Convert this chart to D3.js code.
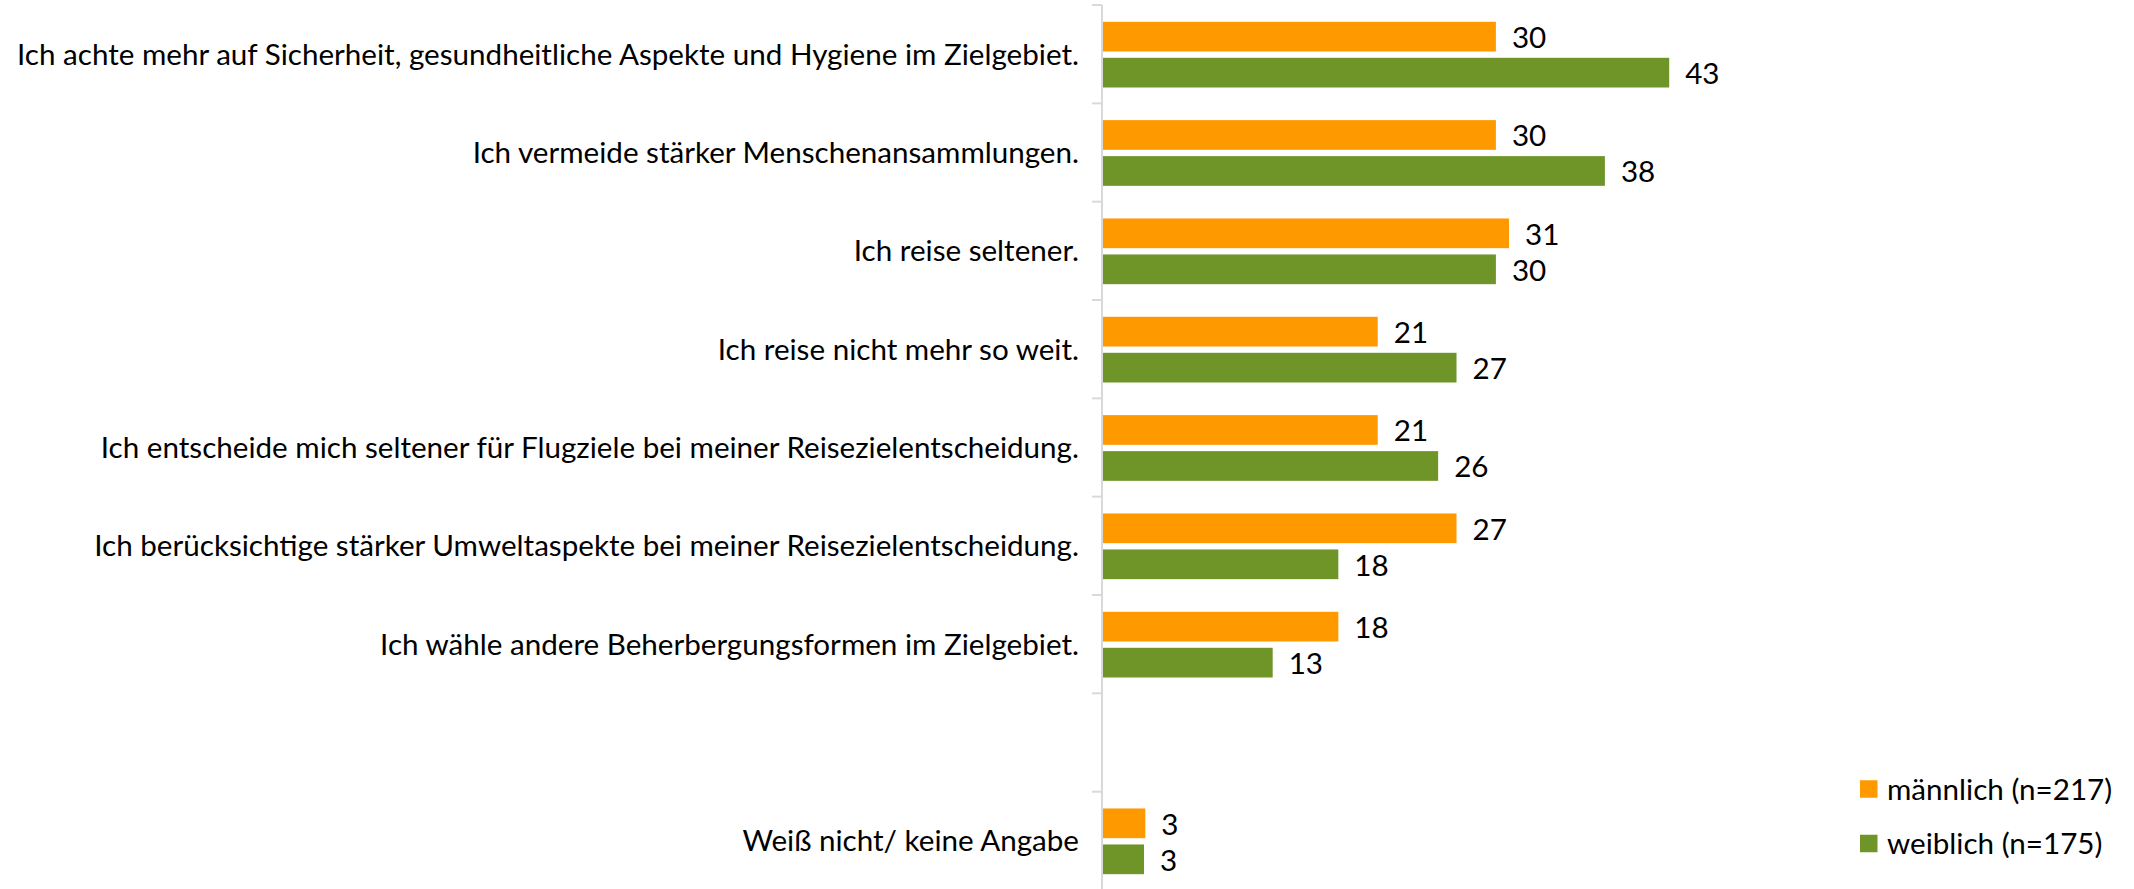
<!DOCTYPE html>
<html>
<head>
<meta charset="utf-8">
<script src="https://cdn.jsdelivr.net/npm/d3@7"></script>
<style>
  html, body { margin: 0; padding: 0; background: #fff; }
  svg { display: block; }
  text { font-family: Lato, "Open Sans", sans-serif; fill: #000; }
</style>
</head>
<body>
<svg id="chart" width="2134" height="889"></svg>
<script>
// ---- data ----
const categories = [
  "Ich achte mehr auf Sicherheit, gesundheitliche Aspekte und Hygiene im Zielgebiet.",
  "Ich vermeide stärker Menschenansammlungen.",
  "Ich reise seltener.",
  "Ich reise nicht mehr so weit.",
  "Ich entscheide mich seltener für Flugziele bei meiner Reisezielentscheidung.",
  "Ich berücksichtige stärker Umweltaspekte bei meiner Reisezielentscheidung.",
  "Ich wähle andere Beherbergungsformen im Zielgebiet.",
  "",
  "Weiß nicht/ keine Angabe"
];
const seriesNames = ["männlich (n=217)", "weiblich (n=175)"];
const maleValues   = [30, 30, 31, 21, 21, 27, 18, null, 3.3];
const femaleValues = [43.2, 38.3, 30, 27, 25.6, 18, 13, null, 3.2];
const seriesColors = ["#FF9900", "#6F9529"];

// ---- layout ----
const svg = d3.select("#chart");
const axisX = 1102;
const fontSize = 29.6;

const x = d3.scaleLinear().domain([0, 50]).range([axisX, axisX + 656.5]);
const y0 = d3.scaleBand().domain(d3.range(categories.length)).range([5, 890]).padding(0);
const y1 = d3.scaleBand().domain([0, 1]).range([16.8, 16.8 + 65.7]).paddingInner(0.175).paddingOuter(0);

const seriesData = [maleValues, femaleValues];

// axis line + ticks
const axisG = svg.append("g");
axisG.append("line")
  .attr("x1", axisX).attr("x2", axisX)
  .attr("y1", y0.range()[0]).attr("y2", y0.range()[1])
  .attr("stroke", "#D9D9D9").attr("stroke-width", 2);
const tickPos = d3.range(categories.length + 1).map(i => y0.range()[0] + i * y0.step());
axisG.selectAll("line.tick").data(tickPos).join("line")
  .attr("class", "tick")
  .attr("x1", axisX - 10).attr("x2", axisX)
  .attr("y1", d => d).attr("y2", d => d)
  .attr("stroke", "#D9D9D9").attr("stroke-width", 2);

// category labels
svg.append("g").selectAll("text").data(categories).join("text")
  .attr("x", 1079)
  .attr("y", (d, i) => y0(i) + y0.bandwidth() / 2 + 10.5)
  .attr("text-anchor", "end")
  .attr("font-size", fontSize)
  .text(d => d);

// bars
seriesData.forEach((vals, s) => {
  const g = svg.append("g");
  const rows = vals.map((v, i) => ({ v, i })).filter(d => d.v != null);
  g.selectAll("rect").data(rows).join("rect")
    .attr("x", axisX + 1)
    .attr("y", d => y0(d.i) + y1(s))
    .attr("width", d => x(d.v) - axisX - 1)
    .attr("height", y1.bandwidth())
    .attr("fill", seriesColors[s]);
  g.selectAll("text").data(rows).join("text")
    .attr("x", d => x(d.v) + 16)
    .attr("y", d => y0(d.i) + y1(s) + y1.bandwidth() / 2 + 11.5)
    .attr("font-size", fontSize)
    .text(d => d3.format(".0f")(d.v));
});

// legend
const legend = svg.append("g");
const legendY = [789, 843.5];
seriesNames.forEach((name, s) => {
  legend.append("rect")
    .attr("x", 1860).attr("y", legendY[s] - 8.75)
    .attr("width", 17.5).attr("height", 17.5)
    .attr("fill", seriesColors[s]);
  legend.append("text")
    .attr("x", 1887).attr("y", legendY[s] + 10.5)
    .attr("font-size", fontSize)
    .text(name);
});
</script>
</body>
</html>
